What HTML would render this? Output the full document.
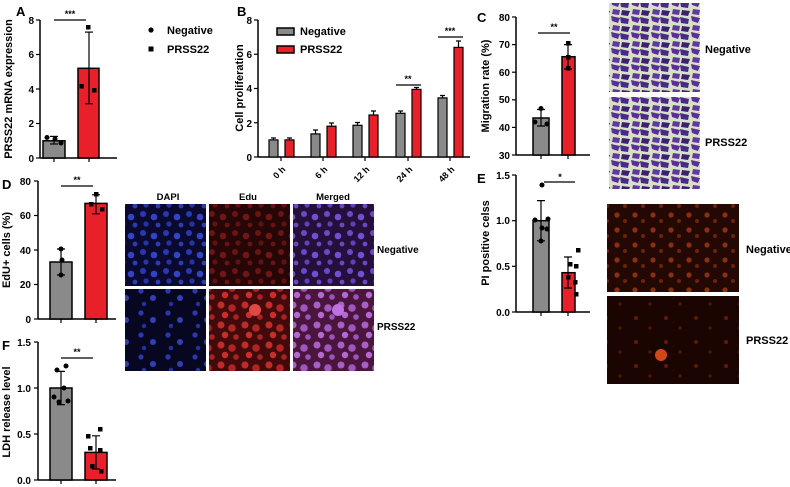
<!DOCTYPE html>
<html><head><meta charset="utf-8"><style>
html,body{margin:0;padding:0;background:#fff;}
svg{display:block;font-family:"Liberation Sans",Arial,sans-serif;font-weight:bold;}
</style></head><body>
<svg width="790" height="487" viewBox="0 0 790 487" xmlns="http://www.w3.org/2000/svg">
<defs>
<pattern id="blue" width="23" height="19" patternUnits="userSpaceOnUse">
<rect width="23" height="19" fill="#0a0a30"/>
<circle cx="5" cy="5" r="3" fill="#2a38b0"/><circle cx="16" cy="8" r="3.3" fill="#3444c0"/><circle cx="8" cy="15" r="2.6" fill="#2634a0"/><circle cx="20" cy="16" r="2.4" fill="#2e3cb0"/>
</pattern>
<pattern id="blue2" width="27" height="22" patternUnits="userSpaceOnUse">
<rect width="27" height="22" fill="#070722"/>
<circle cx="6" cy="5" r="2.6" fill="#2a38b0"/><circle cx="18" cy="12" r="3" fill="#3040b8"/><circle cx="9" cy="18" r="2.2" fill="#2432a0"/>
</pattern>
<pattern id="red" width="23" height="19" patternUnits="userSpaceOnUse">
<rect width="23" height="19" fill="#260606"/>
<circle cx="5" cy="5" r="3" fill="#6a1414"/><circle cx="16" cy="8" r="3.3" fill="#701616"/><circle cx="8" cy="15" r="2.6" fill="#601212"/><circle cx="20" cy="16" r="2.4" fill="#681414"/>
</pattern>
<pattern id="red2" width="24" height="20" patternUnits="userSpaceOnUse">
<rect width="24" height="20" fill="#420a0a"/>
<circle cx="5" cy="5" r="3.5" fill="#c02a2a"/><circle cx="16" cy="8" r="3.8" fill="#b02424"/><circle cx="9" cy="15" r="3.2" fill="#c83030"/><circle cx="20" cy="17" r="2.8" fill="#a82424"/>
</pattern>
<pattern id="merge" width="23" height="19" patternUnits="userSpaceOnUse">
<rect width="23" height="19" fill="#24103a"/>
<circle cx="5" cy="5" r="3" fill="#6a48c8"/><circle cx="16" cy="8" r="3.3" fill="#7050d0"/><circle cx="8" cy="15" r="2.6" fill="#6040b8"/><circle cx="20" cy="16" r="2.4" fill="#6a48c0"/>
</pattern>
<pattern id="merge2" width="24" height="20" patternUnits="userSpaceOnUse">
<rect width="24" height="20" fill="#4a163e"/>
<circle cx="5" cy="5" r="3.5" fill="#a860c8"/><circle cx="16" cy="8" r="3.8" fill="#a058c0"/><circle cx="9" cy="15" r="3.2" fill="#b468d0"/><circle cx="20" cy="17" r="2.8" fill="#9c54bc"/>
</pattern>
<pattern id="crystal" width="20" height="16" patternUnits="userSpaceOnUse">
<rect width="20" height="16" fill="#d8e0c8"/>
<path d="M0 1 L9 3 L8 8 L1 7 Z" fill="#4a2888"/><path d="M11 0 L20 2 L18 7 L12 5Z" fill="#5a3098"/><path d="M2 10 L10 11 L8 16 L1 15Z" fill="#3e2070"/><path d="M13 9 L20 10 L19 15 L12 14Z" fill="#6038a0"/>
</pattern>
<pattern id="pi" width="18" height="15" patternUnits="userSpaceOnUse">
<rect width="18" height="15" fill="#240804"/>
<circle cx="5" cy="5" r="2.6" fill="#8a3010"/><circle cx="13" cy="11" r="2" fill="#6a2408"/>
</pattern>
<pattern id="pi2" width="30" height="24" patternUnits="userSpaceOnUse">
<rect width="30" height="24" fill="#1a0503"/>
<circle cx="6" cy="6" r="2" fill="#5a1c08"/><circle cx="20" cy="16" r="1.8" fill="#4a1606"/>
</pattern>
</defs>

<g font-size="10" fill="#000">
<!-- Panel A -->
<text x="16" y="16" font-size="13">A</text>
<line x1="40" y1="20" x2="40" y2="158" stroke="#000" stroke-width="1.5"/>
<line x1="40" y1="158" x2="117" y2="158" stroke="#000" stroke-width="1.5"/>
<g stroke="#000" stroke-width="1.2">
<line x1="36" y1="20" x2="40" y2="20"/><line x1="36" y1="54.5" x2="40" y2="54.5"/><line x1="36" y1="89" x2="40" y2="89"/><line x1="36" y1="123.5" x2="40" y2="123.5"/><line x1="36" y1="158" x2="40" y2="158"/>
<line x1="54" y1="158" x2="54" y2="162"/><line x1="89" y1="158" x2="89" y2="162"/>
</g>
<g text-anchor="end"><text x="34" y="24">8</text><text x="34" y="58">6</text><text x="34" y="93">4</text><text x="34" y="127">2</text><text x="34" y="162">0</text></g>
<text transform="translate(12,89) rotate(-90)" text-anchor="middle" font-size="11">PRSS22 mRNA expression</text>
<rect x="43" y="140.8" width="22" height="17.2" fill="#8a8a8a" stroke="#000" stroke-width="1.5"/>
<rect x="78" y="68.3" width="21" height="89.7" fill="#e8202a" stroke="#000" stroke-width="1.5"/>
<g stroke="#000" stroke-width="1.2"><line x1="54" y1="144" x2="54" y2="136.4"/><line x1="50" y1="136.4" x2="58" y2="136.4"/><line x1="50" y1="144" x2="58" y2="144"/>
<line x1="89" y1="103.7" x2="89" y2="32.1"/><line x1="85" y1="32.1" x2="93" y2="32.1"/><line x1="85" y1="103.7" x2="93" y2="103.7"/>
<line x1="54" y1="20" x2="86" y2="20"/></g>
<text x="70" y="17" text-anchor="middle" font-size="9">***</text>
<circle cx="47" cy="137.5" r="2.5"/><circle cx="55" cy="139" r="2.5"/><circle cx="61" cy="143" r="2.5"/>
<rect x="86" y="25" width="4.5" height="4.5"/><rect x="79.5" y="84" width="4.5" height="4.5"/><rect x="92" y="88" width="4.5" height="4.5"/>
<circle cx="151" cy="30" r="2.6"/><text x="167" y="34" font-size="11">Negative</text>
<rect x="148.5" y="46.5" width="5" height="5"/><text x="167" y="53" font-size="11">PRSS22</text>

<!-- Panel B -->
<text x="237" y="16" font-size="13">B</text>
<line x1="258" y1="20" x2="258" y2="157" stroke="#000" stroke-width="1.5"/>
<line x1="258" y1="157" x2="470" y2="157" stroke="#000" stroke-width="1.5"/>
<g stroke="#000" stroke-width="1.2">
<line x1="254" y1="20" x2="258" y2="20"/><line x1="254" y1="54.25" x2="258" y2="54.25"/><line x1="254" y1="88.5" x2="258" y2="88.5"/><line x1="254" y1="122.75" x2="258" y2="122.75"/><line x1="254" y1="157" x2="258" y2="157"/>
<line x1="281" y1="157" x2="281" y2="161"/><line x1="323" y1="157" x2="323" y2="161"/><line x1="365" y1="157" x2="365" y2="161"/><line x1="408" y1="157" x2="408" y2="161"/><line x1="450" y1="157" x2="450" y2="161"/>
</g>
<g text-anchor="end"><text x="252" y="24">8</text><text x="252" y="58">6</text><text x="252" y="92">4</text><text x="252" y="127">2</text><text x="252" y="161">0</text></g>
<text transform="translate(243,88) rotate(-90)" text-anchor="middle" font-size="11">Cell proliferation</text>
<g stroke="#000" stroke-width="1.2">
<rect x="269" y="139.9" width="9" height="17.1" fill="#8a8a8a"/><rect x="285" y="139.9" width="9" height="17.1" fill="#e8202a"/>
<rect x="311" y="133.9" width="9" height="23.1" fill="#8a8a8a"/><rect x="327" y="126.2" width="9" height="30.8" fill="#e8202a"/>
<rect x="353" y="125.3" width="9" height="31.7" fill="#8a8a8a"/><rect x="369" y="115" width="9" height="42" fill="#e8202a"/>
<rect x="396" y="113.3" width="9" height="43.7" fill="#8a8a8a"/><rect x="412" y="89.4" width="9" height="67.6" fill="#e8202a"/>
<rect x="438" y="97.9" width="9" height="59.1" fill="#8a8a8a"/><rect x="454" y="47.4" width="9" height="109.6" fill="#e8202a"/>
<path d="M271 138h5M287 138h5M313 130h5M329 123h5M355 122.5h5M371 111h5M398 111h5M414 87.5h5M440 95.5h5M456 41h5 M273.5 138v2M289.5 138v2M315.5 130v4M331.5 123v3M357.5 122.5v3M373.5 111v4M400.5 111v2M416.5 87.5v2M442.5 95.5v2M458.5 41v6" fill="none"/>
<line x1="396" y1="85" x2="421" y2="85"/><line x1="438" y1="37" x2="463" y2="37"/>
</g>
<text x="408" y="82" text-anchor="middle" font-size="9">**</text>
<text x="450" y="34" text-anchor="middle" font-size="9">***</text>
<rect x="277" y="28" width="17" height="7" fill="#8a8a8a" stroke="#000" stroke-width="1.5"/><text x="300" y="35" font-size="11">Negative</text>
<rect x="277" y="46" width="17" height="7" fill="#e8202a" stroke="#000" stroke-width="1.5"/><text x="300" y="53" font-size="11">PRSS22</text>
<g font-size="9" text-anchor="end">
<text transform="translate(286,170) rotate(-45)">0 h</text>
<text transform="translate(328,170) rotate(-45)">6 h</text>
<text transform="translate(370,170) rotate(-45)">12 h</text>
<text transform="translate(413,170) rotate(-45)">24 h</text>
<text transform="translate(455,170) rotate(-45)">48 h</text>
</g>

<!-- Panel C -->
<text x="477" y="22" font-size="13">C</text>
<line x1="516" y1="17" x2="516" y2="155" stroke="#000" stroke-width="1.5"/>
<line x1="516" y1="155" x2="590" y2="155" stroke="#000" stroke-width="1.5"/>
<g stroke="#000" stroke-width="1.2">
<line x1="512" y1="17" x2="516" y2="17"/><line x1="512" y1="44.6" x2="516" y2="44.6"/><line x1="512" y1="72.2" x2="516" y2="72.2"/><line x1="512" y1="99.8" x2="516" y2="99.8"/><line x1="512" y1="127.4" x2="516" y2="127.4"/><line x1="512" y1="155" x2="516" y2="155"/>
<line x1="541" y1="155" x2="541" y2="159"/><line x1="568" y1="155" x2="568" y2="159"/>
</g>
<g text-anchor="end"><text x="510" y="21">80</text><text x="510" y="48">70</text><text x="510" y="76">60</text><text x="510" y="103">50</text><text x="510" y="131">40</text><text x="510" y="159">30</text></g>
<text transform="translate(489,86) rotate(-90)" text-anchor="middle" font-size="11">Migration rate (%)</text>
<rect x="533" y="118" width="16" height="37" fill="#8a8a8a" stroke="#000" stroke-width="1.5"/>
<rect x="562" y="56.7" width="13" height="98.3" fill="#e8202a" stroke="#000" stroke-width="1.5"/>
<g stroke="#000" stroke-width="1.2"><path d="M541 126V109.5M537 109.5h8M537 126h8M568 69V44.6M564 44.6h8M564 69h8M538 33h32"/></g>
<text x="554" y="30" text-anchor="middle" font-size="9">**</text>
<circle cx="541" cy="108.5" r="2.5"/><circle cx="535" cy="122" r="2.5"/><circle cx="547" cy="124" r="2.5"/>
<rect x="566" y="41" width="4.5" height="4.5"/><rect x="566" y="66" width="4.5" height="4.5"/><rect x="566" y="55" width="4.5" height="4.5"/>
<rect x="609" y="3" width="91" height="89" fill="url(#crystal)"/>
<rect x="609" y="97" width="91" height="92" fill="url(#crystal)"/>
<text x="705" y="53" font-size="11">Negative</text>
<text x="705" y="146" font-size="11">PRSS22</text>

<!-- Panel E -->
<text x="477" y="183" font-size="13">E</text>
<line x1="516" y1="175" x2="516" y2="312" stroke="#000" stroke-width="1.5"/>
<line x1="516" y1="312" x2="590" y2="312" stroke="#000" stroke-width="1.5"/>
<g stroke="#000" stroke-width="1.2">
<line x1="512" y1="175" x2="516" y2="175"/><line x1="512" y1="220.7" x2="516" y2="220.7"/><line x1="512" y1="266.3" x2="516" y2="266.3"/><line x1="512" y1="312" x2="516" y2="312"/>
<line x1="541" y1="312" x2="541" y2="316"/><line x1="568" y1="312" x2="568" y2="316"/>
</g>
<g text-anchor="end"><text x="510" y="179">1.5</text><text x="510" y="224">1.0</text><text x="510" y="270">0.5</text><text x="510" y="316">0.0</text></g>
<text transform="translate(489,243) rotate(-90)" text-anchor="middle" font-size="11">PI positive celss</text>
<rect x="533" y="220.7" width="16" height="91.3" fill="#8a8a8a" stroke="#000" stroke-width="1.5"/>
<rect x="562" y="272.7" width="13" height="39.3" fill="#e8202a" stroke="#000" stroke-width="1.5"/>
<g stroke="#000" stroke-width="1.2"><path d="M541 240.8V200.6M537 200.6h8M537 240.8h8M568 288V257M564 257h8M564 288h8M544 182h31"/></g>
<text x="560" y="180" text-anchor="middle" font-size="9">*</text>
<circle cx="542" cy="185" r="2.5"/><circle cx="542" cy="228" r="2.5"/><circle cx="535" cy="220" r="2.5"/><circle cx="548" cy="219" r="2.5"/><circle cx="547" cy="229" r="2.5"/><circle cx="541" cy="241" r="2.5"/>
<rect x="576" y="248" width="4.5" height="4.5"/><rect x="568" y="262" width="4.5" height="4.5"/><rect x="574" y="264" width="4.5" height="4.5"/><rect x="566" y="275" width="4.5" height="4.5"/><rect x="573" y="280" width="4.5" height="4.5"/><rect x="574" y="292" width="4.5" height="4.5"/>
<rect x="607" y="204" width="132" height="88" fill="url(#pi)"/>
<rect x="607" y="296" width="132" height="88" fill="url(#pi2)"/>
<circle cx="661" cy="355" r="6" fill="#d04818"/>
<text x="746" y="253" font-size="11">Negative</text>
<text x="746" y="344" font-size="11">PRSS22</text>

<!-- Panel D -->
<text x="2" y="189" font-size="13">D</text>
<line x1="38" y1="181" x2="38" y2="319" stroke="#000" stroke-width="1.5"/>
<line x1="38" y1="319" x2="116" y2="319" stroke="#000" stroke-width="1.5"/>
<g stroke="#000" stroke-width="1.2">
<line x1="34" y1="181" x2="38" y2="181"/><line x1="34" y1="215.5" x2="38" y2="215.5"/><line x1="34" y1="250" x2="38" y2="250"/><line x1="34" y1="284.5" x2="38" y2="284.5"/><line x1="34" y1="319" x2="38" y2="319"/>
<line x1="61" y1="319" x2="61" y2="323"/><line x1="96" y1="319" x2="96" y2="323"/>
</g>
<g text-anchor="end"><text x="31" y="185">80</text><text x="31" y="219">60</text><text x="31" y="254">40</text><text x="31" y="288">20</text><text x="31" y="323">0</text></g>
<text transform="translate(10,250) rotate(-90)" text-anchor="middle" font-size="11">EdU+ cells (%)</text>
<rect x="50" y="262" width="22" height="57" fill="#8a8a8a" stroke="#000" stroke-width="1.5"/>
<rect x="85" y="203.4" width="22" height="115.6" fill="#e8202a" stroke="#000" stroke-width="1.5"/>
<g stroke="#000" stroke-width="1.2"><path d="M61 275V249M57 249h8M57 275h8M96 213.8V194.8M92 194.8h8M92 213.8h8M61 186h32"/></g>
<text x="77" y="183" text-anchor="middle" font-size="9">**</text>
<circle cx="61" cy="249" r="2.5"/><circle cx="62" cy="260" r="2.5"/><circle cx="61" cy="275" r="2.5"/>
<rect x="94" y="192" width="4.5" height="4.5"/><rect x="89" y="202" width="4.5" height="4.5"/><rect x="100" y="207" width="4.5" height="4.5"/>
<text x="168" y="200" text-anchor="middle" font-size="9.5">DAPI</text>
<text x="248" y="200" text-anchor="middle" font-size="9.5">Edu</text>
<text x="333" y="200" text-anchor="middle" font-size="9.5">Merged</text>
<rect x="125" y="204" width="81" height="82" fill="url(#blue)"/>
<rect x="209" y="204" width="81" height="82" fill="url(#red)"/>
<rect x="293" y="204" width="81" height="82" fill="url(#merge)"/>
<rect x="125" y="289" width="81" height="82" fill="url(#blue2)"/>
<rect x="209" y="289" width="81" height="82" fill="url(#red2)"/>
<rect x="293" y="289" width="81" height="82" fill="url(#merge2)"/>
<circle cx="255" cy="310" r="6" fill="#e04848"/><circle cx="338" cy="310" r="6" fill="#c070e0"/>
<text x="377" y="253" font-size="10">Negative</text>
<text x="377" y="330" font-size="10">PRSS22</text>

<!-- Panel F -->
<text x="2" y="350" font-size="13">F</text>
<line x1="38" y1="342" x2="38" y2="480" stroke="#000" stroke-width="1.5"/>
<line x1="38" y1="480" x2="116" y2="480" stroke="#000" stroke-width="1.5"/>
<g stroke="#000" stroke-width="1.2">
<line x1="34" y1="342" x2="38" y2="342"/><line x1="34" y1="388" x2="38" y2="388"/><line x1="34" y1="434" x2="38" y2="434"/><line x1="34" y1="480" x2="38" y2="480"/>
<line x1="61" y1="480" x2="61" y2="484"/><line x1="96" y1="480" x2="96" y2="484"/>
</g>
<g text-anchor="end"><text x="31" y="346">1.5</text><text x="31" y="392">1.0</text><text x="31" y="438">0.5</text><text x="31" y="484">0.0</text></g>
<text transform="translate(10,412) rotate(-90)" text-anchor="middle" font-size="11">LDH release level</text>
<rect x="50" y="388" width="22" height="92" fill="#8a8a8a" stroke="#000" stroke-width="1.5"/>
<rect x="85" y="452.4" width="22" height="27.6" fill="#e8202a" stroke="#000" stroke-width="1.5"/>
<g stroke="#000" stroke-width="1.2"><path d="M61 404.6V371.4M57 371.4h8M57 404.6h8M96 469V435.8M92 435.8h8M92 469h8M61 358h32"/></g>
<text x="77" y="355" text-anchor="middle" font-size="9">**</text>
<circle cx="57" cy="370" r="2.5"/><circle cx="66" cy="366" r="2.5"/><circle cx="54" cy="397" r="2.5"/><circle cx="64" cy="388" r="2.5"/><circle cx="68" cy="401" r="2.5"/><circle cx="59" cy="402" r="2.5"/>
<rect x="98" y="427" width="4.5" height="4.5"/><rect x="86" y="434" width="4.5" height="4.5"/><rect x="88" y="446" width="4.5" height="4.5"/><rect x="98" y="448" width="4.5" height="4.5"/><rect x="90" y="464" width="4.5" height="4.5"/><rect x="99" y="469" width="4.5" height="4.5"/>
</g>
</svg>
</body></html>
